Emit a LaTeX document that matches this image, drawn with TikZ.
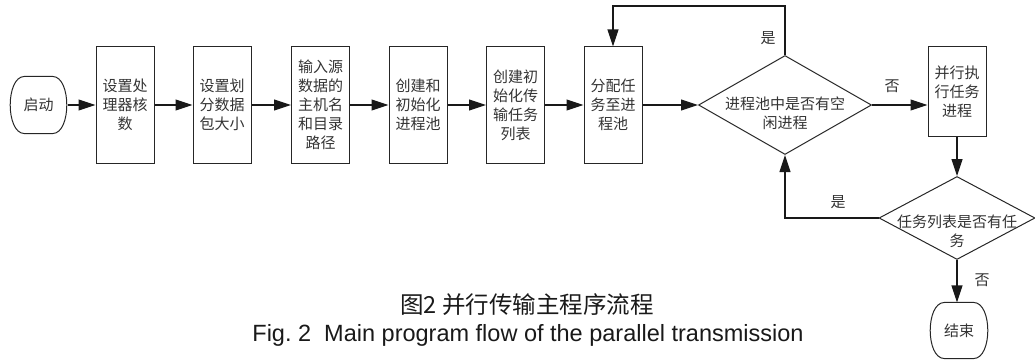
\documentclass[tikz,border=0pt]{standalone}
\usepackage{fontspec}
\newfontfamily\cjk{Noto Sans CJK SC}
\newfontfamily\arialf{Liberation Sans}
\usetikzlibrary{arrows.meta,shapes.geometric}
\begin{document}
\begin{tikzpicture}[x=1pt,y=-1pt,
  line width=1.1pt,
  txt/.style={font=\cjk\fontsize{15}{19}\selectfont, text=black!80, align=center, inner sep=0pt},
  procbox/.style={draw=black!85, line width=1pt, rectangle, minimum width=58pt, minimum height=116pt, inner sep=0pt,
    font=\cjk\fontsize{15}{19}\selectfont, text=black!80, align=center},
  termbox/.style={rectangle, minimum width=57pt, minimum height=56pt, inner sep=0pt,
    font=\cjk\fontsize{15}{19}\selectfont, text=black!80},
  termline/.style={draw=black!85, line width=1pt},
  decbox/.style={draw=black!85, line width=1pt, diamond, inner sep=0pt},
  flow/.style={draw=black!90, -{Triangle[length=17pt,width=11pt]}},
  lab/.style={font=\cjk\fontsize{15}{19}\selectfont, text=black!80, inner sep=0pt}
]
\useasboundingbox (0,0) rectangle (1035,361);

\node[termbox] (start) at (38.5,105) {启动};
\draw[termline] ([xshift=15pt]start.north west) -- ([xshift=-15pt]start.north east)
  .. controls ([xshift=4pt]start.north east) and ([xshift=4pt]start.south east) .. ([xshift=-15pt]start.south east)
  -- ([xshift=15pt]start.south west)
  .. controls ([xshift=-4pt]start.south west) and ([xshift=-4pt]start.north west) .. cycle;

\node[procbox] (b1) at (125,105) {设置处\\理器核\\数};
\node[procbox] (b2) at (222,105) {设置划\\分数据\\包大小};
\node[procbox] (b3) at (320.5,105) {输入源\\数据的\\主机名\\和目录\\路径};
\node[procbox] (b4) at (418,105) {创建和\\初始化\\进程池};
\node[procbox] (b5) at (515.5,105) {创建初\\始化传\\输任务\\列表};
\node[procbox] (b6) at (613,105) {分配任\\务至进\\程池};

\node[decbox, minimum width=173pt, minimum height=99pt] (d1) at (785,105) {};
\node[txt] (d1t) at (785,113) {进程池中是否有空\\闲进程};

\node[procbox, minimum height=89pt] (b7) at (957,91.5) {并行执\\行任务\\进程};

\node[decbox, minimum width=156pt, minimum height=83pt] (d2) at (957,218) {};
\node[txt] (d2t) at (957,231) {任务列表是否有任\\务};

\node[termbox, minimum width=58pt, minimum height=55pt] (stop) at (959,330.5) {结束};
\draw[termline] ([xshift=15pt]stop.north west) -- ([xshift=-15pt]stop.north east)
  .. controls ([xshift=4pt]stop.north east) and ([xshift=4pt]stop.south east) .. ([xshift=-15pt]stop.south east)
  -- ([xshift=15pt]stop.south west)
  .. controls ([xshift=-4pt]stop.south west) and ([xshift=-4pt]stop.north west) .. cycle;

\coordinate (topR) at (785,6);
\coordinate (topL) at (613,6);
\coordinate (botL) at (785,218);

\draw[flow] (start) -- (b1);
\draw[flow] (b1) -- (b2);
\draw[flow] (b2) -- (b3);
\draw[flow] (b3) -- (b4);
\draw[flow] (b4) -- (b5);
\draw[flow] (b5) -- (b6);
\draw[flow] (b6) -- (d1.west);
\draw[flow] (d1.north) -- (topR) -- (topL) -- (b6.north);
\draw[flow] (d1.east) -- (d1.east -| b7.west);
\draw[flow] (b7.south) -- (b7.south |- d2.north);
\draw[flow] (d2.west) -- (botL) -- (d1.south);
\draw[flow] (d2.south) -- (d2.south |- stop.north);

\node[lab] (yes1) at (768,38) {是};
\node[lab] (no1) at (892,86) {否};
\node[lab] (yes2) at (838,202) {是};
\node[lab] (no2) at (982,280) {否};

\node[font=\cjk\fontsize{23.5}{28}\selectfont, text=black!90, inner sep=0pt] (cap1) at (527,305) {图2 并行传输主程序流程};
\node[font=\arialf\fontsize{23.5}{28}\selectfont, text=black!90, inner sep=0pt, anchor=base] (cap2) at (528,341) {Fig.~2~~Main program flow of the parallel transmission};
\end{tikzpicture}
\end{document}
